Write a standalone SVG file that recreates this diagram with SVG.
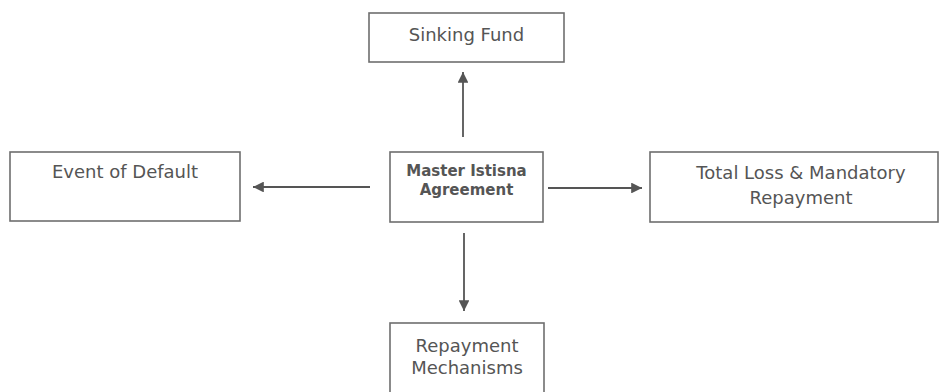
<svg xmlns="http://www.w3.org/2000/svg" width="939" height="392" viewBox="0 0 939 392">
  <style>
    .box { fill: #ffffff; stroke: #6e6e6e; stroke-width: 1.6; }
    .t { font-family: "DejaVu Sans", Verdana, sans-serif; font-size: 18px; fill: #555555; text-anchor: middle; }
    .tb { font-family: "DejaVu Sans", Verdana, sans-serif; font-size: 15px; font-weight: bold; fill: #555555; text-anchor: middle; }
    .conn { stroke: #555555; stroke-width: 1.8; fill: none; marker-end: url(#arrow); }
  </style>
  <defs>
    <marker id="arrow" viewBox="0 0 10 10" refX="10" refY="5" markerWidth="6" markerHeight="6" orient="auto" markerUnits="strokeWidth">
      <path d="M0,0 L10,5 L0,10 z" fill="#555555"/>
    </marker>
  </defs>
  <rect width="939" height="392" fill="#ffffff"/>
  <g id="sinking-fund">
    <rect class="box" x="369" y="13" width="195" height="49"/>
    <text class="t" x="466.5" y="41">Sinking Fund</text>
  </g>
  <g id="event-of-default">
    <rect class="box" x="10" y="152" width="230" height="69"/>
    <text class="t" x="125" y="178">Event of Default</text>
  </g>
  <g id="master-istisna">
    <rect class="box" x="390" y="152" width="153" height="70"/>
    <text class="tb" x="466.5" y="176">Master Istisna</text>
    <text class="tb" x="466.5" y="195">Agreement</text>
  </g>
  <g id="total-loss">
    <rect class="box" x="650" y="152" width="288" height="70"/>
    <text class="t" x="801" y="179">Total Loss &amp; Mandatory</text>
    <text class="t" x="801" y="204">Repayment</text>
  </g>
  <g id="repayment-mechanisms">
    <rect class="box" x="390" y="323" width="154" height="80"/>
    <text class="t" x="467" y="352">Repayment</text>
    <text class="t" x="467" y="374">Mechanisms</text>
  </g>
  <g id="connectors">
    <line class="conn" x1="463" y1="137" x2="463" y2="72"/>
    <line class="conn" x1="370" y1="187" x2="253" y2="187"/>
    <line class="conn" x1="548" y1="188" x2="642" y2="188"/>
    <line class="conn" x1="464" y1="233" x2="464" y2="311"/>
  </g>
</svg>
